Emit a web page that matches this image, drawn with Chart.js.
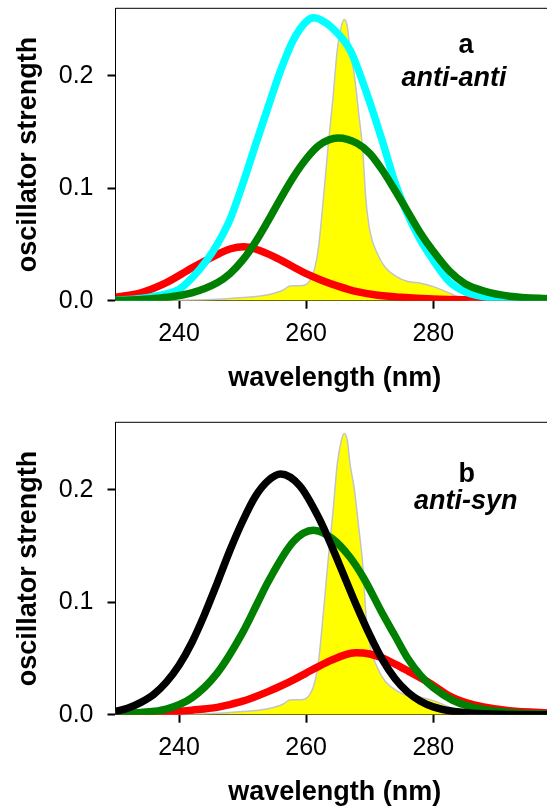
<!DOCTYPE html>
<html lang="en">
<head>
  <meta charset="UTF-8">
  <title>Oscillator strength vs wavelength</title>
  <script src="https://cdn.jsdelivr.net/npm/chart.js"></script>
  <style>
    html, body { margin: 0; padding: 0; background: #fff; overflow: hidden; }
    .panel { position: absolute; left: 0; width: 547px; height: 403px; overflow: hidden; }
    .panel canvas { position: absolute; left: 0; top: 0; }
  </style>
</head>
<body>

  <div class="panel" style="top: 0;"><canvas id="chartA" width="554" height="403"></canvas></div>
  <div class="panel" style="top: 414px; height: 392px;"><canvas id="chartB" width="554" height="403"></canvas></div>

  <script>
    // measured absorption band (same in both panels)
    const specX = [230, 240, 245, 249.6, 253.8, 256.4, 257.4, 259.5, 260.6, 261.4, 262.0, 262.7, 263.4, 264.2, 264.9, 265.5, 266.0, 266.5, 266.9, 267.6, 268.3, 268.9, 269.4, 270.1, 271.2, 272.4, 274.2, 276.0, 278.0, 280.0, 282.6, 284.2, 286.5, 299];
    const specY = [0, 0.0003, 0.001, 0.0027, 0.005, 0.0095, 0.013, 0.0135, 0.018, 0.030, 0.050, 0.090, 0.134, 0.179, 0.223, 0.243, 0.250, 0.243, 0.223, 0.200, 0.165, 0.134, 0.090, 0.060, 0.042, 0.030, 0.0214, 0.017, 0.0155, 0.0125, 0.0066, 0.0027, 0, 0];

    // panel a: anti-anti
    const aCyanX = [230, 234, 238, 240, 242, 244.5, 246, 248, 249.8, 252, 254, 256, 258, 260, 261.2, 262.5, 264, 266.9, 269.5, 272.1, 274.1, 277.4, 280, 282.6, 285, 287.9, 292, 299];
    const aCyanY = [0.0005, 0.002, 0.006, 0.010, 0.020, 0.037, 0.050, 0.072, 0.100, 0.138, 0.172, 0.205, 0.232, 0.248, 0.2515, 0.249, 0.243, 0.223, 0.185, 0.140, 0.103, 0.060, 0.036, 0.0165, 0.008, 0.0036, 0.001, 0];
    const aRedX = [230, 234, 238, 242, 246, 248, 250.2, 252, 255, 258, 260, 262.5, 265, 268, 271, 275, 280, 286, 299];
    const aRedY = [0.003, 0.007, 0.016, 0.029, 0.041, 0.046, 0.048, 0.046, 0.039, 0.030, 0.024, 0.018, 0.013, 0.008, 0.005, 0.003, 0.0015, 0.0008, 0.0003];
    const aGreenX = [230, 234, 238, 242, 246, 248, 250, 252, 254, 256, 258, 260, 262, 265, 268, 270, 272, 274, 276, 278, 280, 282.6, 285, 288, 292, 299];
    const aGreenY = [0.0003, 0.001, 0.003, 0.007, 0.016, 0.024, 0.036, 0.052, 0.071, 0.091, 0.110, 0.126, 0.138, 0.1446, 0.140, 0.131, 0.116, 0.098, 0.079, 0.060, 0.044, 0.026, 0.015, 0.0085, 0.004, 0.0015];

    // panel b: anti-syn
    const bBlackX = [230, 232, 234, 236, 238, 240, 242, 244, 246, 248, 250, 252, 254, 256, 259, 262, 264, 266, 268, 270, 272, 274, 276, 278, 280, 283, 287, 292, 299];
    const bBlackY = [0.003, 0.006, 0.011, 0.018, 0.029, 0.044, 0.064, 0.089, 0.117, 0.146, 0.172, 0.194, 0.208, 0.214, 0.2035, 0.175, 0.150, 0.123, 0.096, 0.071, 0.049, 0.032, 0.020, 0.012, 0.007, 0.003, 0.001, 0.0002, 0];
    const bGreenX = [230, 234, 238, 242, 246, 250, 252.4, 254, 258, 261.1, 264, 266.9, 269, 272, 274, 276, 278, 280, 283, 286, 290, 295, 299];
    const bGreenY = [0.001, 0.002, 0.005, 0.015, 0.037, 0.073, 0.100, 0.118, 0.154, 0.164, 0.157, 0.140, 0.122, 0.090, 0.070, 0.050, 0.035, 0.024, 0.013, 0.007, 0.003, 0.001, 0.0005];
    const bRedX = [230, 234, 238, 242, 246, 248, 250, 252, 254, 256, 258, 260, 262, 264, 266, 267.8, 270, 271.7, 274, 276, 279.6, 282.6, 285, 287.9, 292, 299];
    const bRedY = [0.0005, 0.001, 0.002, 0.004, 0.0065, 0.009, 0.012, 0.016, 0.0205, 0.0255, 0.031, 0.037, 0.043, 0.0485, 0.053, 0.055, 0.054, 0.051, 0.045, 0.039, 0.0276, 0.0165, 0.011, 0.0068, 0.0035, 0.0015];

    const xTicks = [240, 260, 280];
    const yTicks = [0, 0.1, 0.2];

    const FONT = "'Liberation Sans', Arial, sans-serif";

    const pts = (xs, ys) => xs.map((x, i) => ({ x, y: ys[i] }));

    function curve(xs, ys, color) {
      return { data: pts(xs, ys), borderColor: color, borderWidth: 7.5, fill: false };
    }

    function band() {
      return {
        data: pts(specX, specY),
        borderColor: '#c4c4c4',
        borderWidth: 1.5,
        backgroundColor: '#ffff00',
        fill: 'origin'
      };
    }

    // top edge of the plot frame
    const frameTop = {
      id: 'frameTop',
      afterDatasetsDraw(chart) {
        const { ctx, chartArea: a } = chart;
        ctx.save();
        ctx.strokeStyle = '#000';
        ctx.lineWidth = 1;
        ctx.beginPath();
        ctx.moveTo(a.left, a.top);
        ctx.lineTo(a.right, a.top);
        ctx.stroke();
        ctx.restore();
      }
    };

    // panel letter and conformer name
    const panelTag = {
      id: 'panelTag',
      afterDraw(chart, args, opts) {
        const { ctx } = chart;
        ctx.save();
        ctx.fillStyle = '#000';
        ctx.textAlign = 'center';
        ctx.textBaseline = 'alphabetic';
        opts.lines.forEach(l => {
          ctx.font = (l.italic ? 'italic ' : '') + 'bold 27px ' + FONT;
          ctx.fillText(l.text, l.x, l.y);
        });
        ctx.restore();
      }
    };

    // fixed axis box sizes, no extra room for end labels
    function fixBox(s, size) {
      if (s.isHorizontal()) s.height = size; else s.width = size;
      s.paddingTop = s.paddingBottom = s.paddingLeft = s.paddingRight = 0;
    }

    function makePanel(id, datasets, lines) {
      return new Chart(document.getElementById(id), {
        type: 'line',
        data: { datasets },
        options: {
          responsive: false,
          animation: false,
          layout: { autoPadding: false, padding: { top: 8.3, left: 0, right: 0, bottom: 0 } },
          elements: {
            point: { radius: 0 },
            line: { cubicInterpolationMode: 'monotone' }
          },
          plugins: {
            legend: { display: false },
            tooltip: { enabled: false },
            panelTag: { lines }
          },
          scales: {
            x: {
              type: 'linear',
              min: 230,
              max: 299,
              afterFit: s => fixBox(s, 102.3),
              afterBuildTicks: s => { s.ticks = xTicks.map(v => ({ value: v })); },
              grid: { drawOnChartArea: false, tickLength: 8, tickWidth: 2, tickColor: '#000' },
              border: { color: '#000', width: 1 },
              ticks: { color: '#000', padding: 10, maxRotation: 0, font: { family: FONT, size: 25 } },
              title: {
                display: true,
                text: 'wavelength (nm)',
                color: '#000',
                padding: { top: 0, bottom: 8 },
                font: { family: FONT, size: 27, weight: 'bold' }
              }
            },
            y: {
              min: 0,
              max: 0.26,
              afterFit: s => fixBox(s, 115.5),
              afterBuildTicks: s => { s.ticks = yTicks.map(v => ({ value: v })); },
              grid: { drawOnChartArea: false, tickLength: 8, tickWidth: 2, tickColor: '#000' },
              border: { color: '#000', width: 1 },
              ticks: {
                color: '#000',
                padding: 14,
                font: { family: FONT, size: 25 },
                callback: v => v.toFixed(1)
              },
              title: {
                display: true,
                text: 'oscillator strength',
                color: '#000',
                padding: { top: 12.4, bottom: 0 },
                font: { family: FONT, size: 27, weight: 'bold' }
              }
            }
          }
        },
        plugins: [frameTop, panelTag]
      });
    }

    // first dataset is drawn on top
    makePanel('chartA', [
      curve(aGreenX, aGreenY, '#008000'),
      curve(aCyanX, aCyanY, '#00ffff'),
      curve(aRedX, aRedY, '#ff0000'),
      band()
    ], [
      { text: 'a', x: 466, y: 53.3 },
      { text: 'anti-anti', x: 454, y: 86, italic: true }
    ]);

    makePanel('chartB', [
      curve(bBlackX, bBlackY, '#000000'),
      curve(bGreenX, bGreenY, '#008000'),
      curve(bRedX, bRedY, '#ff0000'),
      band()
    ], [
      { text: 'b', x: 466.7, y: 67.7 },
      { text: 'anti-syn', x: 465.8, y: 95.3, italic: true }
    ]);
  </script>

</body>
</html>
